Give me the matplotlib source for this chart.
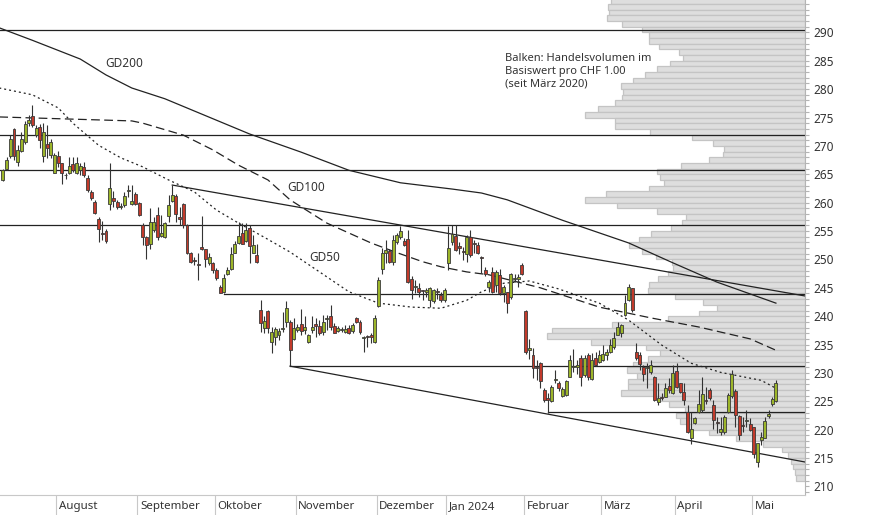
import numpy as np
import pandas as pd
import matplotlib

matplotlib.use("Agg")
import matplotlib.pyplot as plt
from matplotlib.ticker import MultipleLocator

plt.rcParams["font.family"] = ["Noto Sans", "DejaVu Sans"]

INK, MUTED = "#333333", "#b4b4b4"
GREEN, RED = "#9cb52a", "#c23a2b"

# SIX trading calendar for the shown window
START = "2023-07-11"
HOLIDAYS = ["2023-08-01", "2023-12-25", "2023-12-26", "2024-01-01", "2024-01-02",
            "2024-03-29", "2024-04-01", "2024-05-01", "2024-05-09"]
MONTH_LABELS = ["August", "September", "Oktober", "November", "Dezember",
                "Jan 2024", "Februar", "März", "April", "Mai"]

# daily candles: open, high, low, close (CHF)
OHLC = [
    (264.0, 265.9, 263.8, 265.7), (266.0, 268.1, 265.7, 267.6), (268.3, 271.9, 267.8, 271.2),
    (272.9, 273.1, 267.5, 268.3), (267.2, 270.1, 266.4, 269.3), (269.1, 272.4, 269.0, 271.2),
    (270.7, 274.3, 270.4, 273.8), (274.0, 275.5, 273.5, 274.6), (275.3, 277.2, 273.4, 273.7),
    (271.9, 273.7, 271.6, 273.2), (273.3, 273.8, 269.6, 271.0), (268.3, 274.0, 267.2, 272.5),
    (270.3, 273.7, 267.9, 269.6), (268.4, 271.2, 267.9, 270.7), (265.2, 268.8, 265.2, 268.4),
    (268.3, 269.1, 266.3, 267.0), (266.9, 267.0, 263.2, 265.2), (264.9, 265.3, 264.2, 264.8),
    (265.3, 268.1, 265.1, 266.5), (266.8, 268.1, 265.4, 265.7), (265.2, 268.0, 265.0, 266.9),
    (265.8, 267.0, 264.9, 266.5), (266.3, 267.2, 264.6, 264.9), (264.4, 264.9, 261.9, 262.3),
    (261.9, 262.2, 260.4, 260.8), (260.1, 260.5, 258.0, 258.1), (257.2, 257.5, 253.1, 255.3),
    (254.7, 256.8, 253.4, 254.4), (255.0, 255.3, 252.9, 253.2), (259.7, 266.9, 258.7, 262.5),
    (260.9, 262.0, 259.3, 260.3), (260.1, 260.5, 258.9, 259.3), (259.2, 260.0, 258.9, 259.4),
    (259.6, 261.9, 259.3, 261.2), (262.0, 263.1, 261.0, 262.2), (259.7, 263.1, 259.6, 260.3),
    (261.5, 261.9, 259.6, 259.7), (260.0, 260.2, 257.6, 257.8), (256.1, 256.4, 252.5, 254.0),
    (254.0, 254.2, 250.0, 252.5), (252.8, 259.1, 251.9, 256.6), (255.2, 257.5, 254.9, 256.6),
    (257.9, 259.3, 253.4, 254.0), (254.2, 257.8, 254.0, 254.7), (254.0, 256.6, 253.7, 256.5),
    (257.6, 261.3, 256.6, 259.6), (260.3, 263.1, 260.1, 261.3), (261.2, 261.5, 256.6, 258.0),
    (257.4, 259.3, 256.1, 257.2), (259.7, 260.0, 255.5, 256.1), (256.1, 256.3, 251.0, 251.2),
    (251.1, 251.3, 249.3, 249.6), (249.9, 250.5, 249.0, 249.7), (249.2, 251.1, 246.4, 249.0),
    (252.1, 257.7, 251.7, 251.9), (251.8, 251.9, 248.7, 250.0), (249.3, 251.1, 249.0, 250.5),
    (249.3, 249.6, 247.6, 248.1), (248.1, 248.5, 246.4, 246.7), (245.2, 245.5, 244.0, 244.1),
    (244.3, 247.5, 244.1, 246.8), (247.5, 248.7, 247.2, 248.1), (248.4, 252.2, 248.1, 250.9),
    (251.2, 253.3, 251.1, 252.7), (252.9, 256.6, 252.8, 254.1), (254.7, 256.4, 252.7, 252.8),
    (253.3, 256.4, 253.1, 255.2), (255.5, 256.1, 249.4, 252.4), (251.2, 254.3, 251.1, 252.5),
    (250.8, 252.8, 249.4, 249.6), (241.1, 242.9, 237.3, 238.8), (237.9, 240.0, 237.0, 239.1),
    (241.0, 241.1, 237.0, 237.9), (235.5, 238.1, 233.5, 237.3), (236.3, 238.1, 234.9, 237.7),
    (236.6, 238.0, 235.8, 237.4), (237.8, 240.8, 237.3, 238.0), (239.0, 242.6, 238.1, 241.4),
    (239.0, 239.3, 231.2, 234.0), (236.0, 239.6, 235.8, 237.9), (237.6, 238.6, 237.3, 238.1),
    (238.6, 241.2, 236.7, 237.4), (237.6, 240.0, 236.9, 238.1), (235.5, 236.9, 235.3, 236.6),
    (237.6, 240.0, 237.0, 238.1), (238.7, 239.6, 236.4, 238.3), (238.3, 239.3, 236.7, 237.0),
    (237.3, 240.2, 236.7, 238.9), (239.5, 240.2, 237.6, 239.7), (240.1, 241.9, 237.6, 238.1),
    (238.3, 238.8, 237.0, 237.1), (237.4, 238.3, 237.2, 238.0), (237.5, 238.1, 237.3, 237.7),
    (237.3, 238.4, 237.0, 237.8), (238.0, 238.4, 236.8, 237.0), (237.4, 238.8, 237.0, 238.4),
    (239.6, 239.9, 238.8, 238.9), (239.0, 239.3, 236.8, 237.2), (236.2, 236.5, 233.7, 236.4),
    (236.5, 236.7, 234.6, 236.3), (236.7, 237.0, 235.2, 236.3), (235.5, 240.2, 235.3, 239.6),
    (241.8, 246.9, 241.7, 246.4), (248.4, 252.0, 247.5, 251.1), (251.1, 253.4, 249.3, 251.7),
    (251.5, 251.9, 249.4, 249.6), (249.6, 254.3, 249.0, 253.4), (253.1, 254.6, 252.8, 254.3),
    (254.0, 255.9, 253.6, 255.0), (253.3, 253.7, 252.4, 252.5), (253.6, 255.2, 245.8, 246.1),
    (246.5, 247.0, 243.1, 244.6), (245.1, 246.4, 244.0, 245.3), (244.9, 245.8, 243.4, 244.3),
    (244.5, 244.6, 242.8, 244.4), (244.2, 245.0, 243.3, 244.6), (242.8, 245.2, 241.7, 245.0),
    (242.7, 244.8, 242.3, 244.6), (244.4, 245.0, 243.0, 244.2), (243.7, 244.3, 242.5, 242.8),
    (242.8, 245.0, 242.5, 244.6), (249.3, 255.8, 248.1, 252.0), (253.0, 256.0, 252.5, 254.5),
    (254.2, 256.1, 251.4, 251.7), (252.3, 253.0, 251.0, 252.1), (251.5, 252.2, 249.9, 251.3),
    (250.9, 254.3, 249.6, 254.0), (254.0, 255.2, 250.5, 250.8), (252.9, 253.4, 251.1, 252.7),
    (252.5, 253.0, 250.9, 251.1), (250.5, 250.6, 247.6, 250.3), (248.1, 248.7, 247.0, 247.4),
    (245.2, 246.4, 244.3, 246.1), (247.8, 248.7, 244.0, 244.3), (245.5, 248.1, 244.3, 247.8),
    (247.2, 248.4, 243.7, 244.0), (244.0, 245.5, 242.5, 245.2), (244.3, 244.3, 240.5, 242.3),
    (243.3, 247.6, 243.1, 247.5), (246.6, 247.5, 246.0, 246.8), (246.5, 247.5, 245.2, 246.9),
    (249.0, 249.3, 247.2, 247.5), (241.0, 241.1, 233.4, 233.7), (234.0, 236.0, 232.5, 234.4),
    (233.2, 234.4, 229.1, 230.8), (231.1, 232.3, 228.8, 230.9), (231.7, 232.0, 227.3, 228.5),
    (227.0, 227.3, 224.9, 225.2), (225.5, 226.5, 222.9, 225.3), (225.1, 227.9, 224.8, 227.6),
    (228.7, 230.5, 228.2, 228.9), (228.3, 228.6, 226.9, 227.4), (225.9, 227.5, 225.7, 227.2),
    (226.1, 228.8, 225.9, 228.5), (229.3, 233.2, 229.2, 232.3), (231.1, 234.3, 230.2, 231.3),
    (231.0, 232.2, 229.9, 231.4), (232.7, 233.1, 227.7, 229.2), (229.6, 233.2, 229.2, 232.6),
    (233.2, 233.5, 228.8, 229.3), (228.9, 233.5, 228.8, 232.2), (232.7, 233.7, 231.2, 231.4),
    (232.0, 234.0, 231.7, 233.2), (232.3, 235.0, 232.1, 233.4), (233.2, 234.3, 232.3, 233.7),
    (233.7, 236.0, 233.5, 235.0), (234.6, 237.3, 234.3, 236.1), (236.7, 239.0, 236.6, 238.1),
    (237.0, 238.7, 236.4, 238.4), (240.2, 243.7, 240.0, 242.3), (242.8, 245.7, 242.7, 245.1),
    (244.9, 244.9, 240.8, 241.1), (233.7, 235.2, 232.3, 232.7), (233.2, 233.7, 230.5, 231.5),
    (231.1, 231.4, 228.5, 229.9), (230.9, 231.7, 227.3, 231.1), (230.2, 232.3, 229.9, 231.4),
    (229.3, 229.5, 225.1, 225.2), (224.8, 228.2, 224.3, 225.5), (225.8, 226.4, 225.2, 225.6),
    (225.8, 228.2, 225.7, 227.3), (227.7, 229.1, 226.4, 227.0), (226.4, 231.4, 226.3, 230.0),
    (230.4, 231.7, 227.3, 227.5), (228.2, 228.3, 226.4, 226.7), (226.7, 228.2, 224.3, 225.2),
    (223.2, 224.3, 219.4, 219.6), (218.5, 223.2, 217.5, 220.2), (221.2, 222.3, 221.0, 222.0),
    (223.2, 227.0, 222.9, 224.6), (223.5, 229.3, 223.2, 226.3), (225.2, 227.6, 224.6, 225.0),
    (227.0, 227.3, 225.2, 225.5), (224.3, 225.2, 220.2, 221.8), (221.3, 222.3, 219.4, 221.1),
    (219.6, 222.3, 219.1, 220.2), (219.6, 222.6, 219.3, 222.3), (223.2, 226.4, 222.9, 226.1),
    (225.9, 230.5, 225.5, 229.9), (226.9, 227.1, 220.5, 222.6), (222.4, 222.6, 218.2, 219.1),
    (220.9, 222.3, 219.6, 220.7), (221.6, 223.5, 220.5, 221.8), (221.0, 222.0, 219.7, 219.9),
    (220.5, 220.5, 215.0, 215.8), (214.4, 217.7, 213.5, 217.6), (218.2, 219.6, 217.3, 218.8),
    (218.5, 222.3, 218.5, 221.5), (222.5, 223.5, 222.0, 222.7), (224.5, 225.8, 224.1, 225.4),
    (225.1, 228.8, 224.8, 228.2),
]

# moving averages, sampled by trading-day number
GD200_DAY = [-1, 8, 21, 28, 35, 44, 67, 81, 94, 108, 122, 130, 137, 152, 170, 182, 194, 210]
GD200_VAL = [290.8, 288.6, 285.3, 282.5, 280.2, 278.3, 272.1, 268.9, 265.7, 263.5, 262.4,
             261.7, 260.5, 256.9, 252.9, 249.4, 246.0, 242.3]
GD100_DAY = [-1, 35, 38, 49, 57, 64, 72, 78, 88, 100, 107, 114, 119, 126, 132, 146, 162,
             176, 189, 203, 210]
GD100_VAL = [275.1, 274.4, 274.0, 271.9, 269.3, 266.6, 264.0, 260.5, 256.4, 252.9, 251.2,
             249.6, 248.7, 247.8, 247.3, 245.0, 241.6, 239.7, 238.1, 236.0, 234.0]
GD50_DAY = [-1, 8, 15, 19, 26, 32, 38, 45, 52, 58, 64, 71, 78, 86, 94, 102, 111, 119, 126,
            130, 136, 143, 151, 162, 170, 179, 187, 195, 206, 210]
GD50_VAL = [280.2, 279.0, 276.7, 274.0, 270.1, 267.9, 266.3, 264.0, 261.9, 258.7, 256.4,
            253.9, 251.3, 247.8, 244.3, 242.3, 241.6, 241.4, 242.8, 244.3, 245.8, 246.2,
            244.8, 242.3, 239.3, 234.9, 231.7, 230.1, 228.7, 227.3]

# support / resistance levels and the day each one starts
LEVEL = [290.35, 272.0, 265.7, 256.0, 243.9, 231.2, 223.1]
LEVEL_FROM = [-1, -1, -1, -1, 60, 78, 148]
# trend lines: (day, price) end points
TREND_HIGH = [(46, 263.1), (218, 243.55)]
TREND_LOW = [(78, 231.2), (218, 214.3)]

# volume profile per CHF 1.00 price step (bar covers level .. level+1)
VOL_LEVEL = [295, 294, 293, 292, 291, 290, 289, 288, 287, 286, 285, 284, 283, 282, 281,
             280, 279, 278, 277, 276, 275, 274, 273, 272, 271, 270, 269, 268, 267, 266,
             265, 264, 263, 262, 261, 260, 259, 258, 257, 256, 255, 254, 253, 252, 251,
             250, 249, 248, 247, 246, 245, 244, 243, 242, 241, 240, 239, 238, 237, 236,
             235, 234, 233, 232, 231, 230, 229, 228, 227, 226, 225, 224, 223, 222, 221,
             220, 219, 218, 217, 216, 215, 214, 213, 212, 211]
VOLUME = [194, 197, 196, 198, 183, 163, 156, 156, 146, 126, 122, 135, 148, 160, 172,
          184, 182, 183, 190, 207, 220, 190, 190, 155, 113, 92, 81, 82, 96, 124,
          148, 145, 141, 156, 199, 220, 188, 148, 119, 123, 134, 154, 166, 176, 163,
          149, 133, 132, 137, 147, 156, 157, 130, 102, 88, 106, 137, 193, 253, 258,
          214, 159, 145, 157, 172, 178, 168, 177, 177, 184, 148, 136, 120, 129, 125,
          118, 96, 69, 42, 23, 17, 14, 12, 10, 9]
VOL_FULL = 805  # volume that would span the whole plot width

o, h, l, c = np.array(OHLC).T
days = np.arange(len(o))
dates = pd.bdate_range(START, periods=len(o), freq="C", holidays=HOLIDAYS)
month_pos = [i - 0.5 for i in range(1, len(dates)) if dates[i].month != dates[i - 1].month]

XLIM = (-0.8, 217.9)
YLIM = (208.5, 295.7)

fig = plt.figure(figsize=(8.74, 5.15), dpi=100)
rect = [0.0, 20 / 515, 805 / 874, 495 / 515]
axv = fig.add_axes(rect, zorder=0)
ax = fig.add_axes(rect, zorder=1, facecolor="none")

# -- volume profile behind everything ------------------------------------------------
axv.barh(VOL_LEVEL, VOLUME, height=1, align="edge", color="#dedede",
         edgecolor="#c4c4c4", linewidth=0.9)
axv.set_xlim(VOL_FULL, 0)
axv.set_ylim(*YLIM)
axv.axis("off")

# -- levels and trend lines ----------------------------------------------------------
for lev, start in zip(LEVEL, LEVEL_FROM):
    ax.plot([start, XLIM[1]], [lev, lev], color="#222222", lw=0.9, zorder=2)
for (d0, p0), (d1, p1) in (TREND_HIGH, TREND_LOW):
    ax.plot([d0, d1], [p0, p1], color="#222222", lw=0.9, zorder=2)

# -- moving averages -----------------------------------------------------------------
ax.plot(GD200_DAY, GD200_VAL, color="#222222", lw=0.9, zorder=2)
ax.plot(GD100_DAY, GD100_VAL, color="#222222", lw=0.9, dashes=(7, 3.5), zorder=2)
ax.plot(GD50_DAY, GD50_VAL, color="#222222", lw=0.9, dashes=(1.6, 2.4), zorder=2)
ax.text(33, 284.6, "GD200", color=INK, fontsize=8.5, ha="center", va="center")
ax.text(82.3, 262.7, "GD100", color=INK, fontsize=8.5, ha="center", va="center")
ax.text(87.5, 250.4, "GD50", color=INK, fontsize=8.5, ha="center", va="center")

# -- candles -------------------------------------------------------------------------
up = c >= o
bottom = np.minimum(o, c)
height = np.maximum(np.abs(c - o), 0.15)
ax.vlines(days, l, h, color="#333333", lw=0.8, zorder=3)
ax.bar(days[up], height[up], bottom=bottom[up], width=0.8, color=GREEN,
       edgecolor="#3a3a3a", linewidth=0.6, zorder=4)
ax.bar(days[~up], height[~up], bottom=bottom[~up], width=0.8, color=RED,
       edgecolor="#3a3a3a", linewidth=0.6, zorder=4)

ax.text(0.627, 0.893, "Balken: Handelsvolumen im\nBasiswert pro CHF 1.00\n(seit März 2020)",
        transform=ax.transAxes, ha="left", va="top", fontsize=8.0, color=INK,
        linespacing=1.25)

# -- axes ----------------------------------------------------------------------------
ax.set_xlim(*XLIM)
ax.set_ylim(*YLIM)
ax.yaxis.tick_right()
ax.set_yticks(np.arange(210, 291, 5))
ax.yaxis.set_minor_locator(MultipleLocator(1))
ax.tick_params(axis="y", which="both", length=3, width=0.8, color=MUTED,
               labelsize=8.5, labelcolor=INK, pad=3)
ax.set_xticks(month_pos)
ax.set_xticklabels([])
ax.tick_params(axis="x", length=14.5, width=0.8, color="#c8c8c8", direction="out")
for pos, name in zip(month_pos, MONTH_LABELS):
    ax.annotate(name, (pos, 0), xycoords=("data", "axes fraction"), xytext=(2, -8.5),
                textcoords="offset points", ha="left", va="center", fontsize=8.3,
                color=INK)
for side in ("top", "left"):
    ax.spines[side].set_visible(False)
ax.spines["right"].set_color(MUTED)
ax.spines["bottom"].set_color("#c8c8c8")

fig.savefig("out.png", dpi=100)
